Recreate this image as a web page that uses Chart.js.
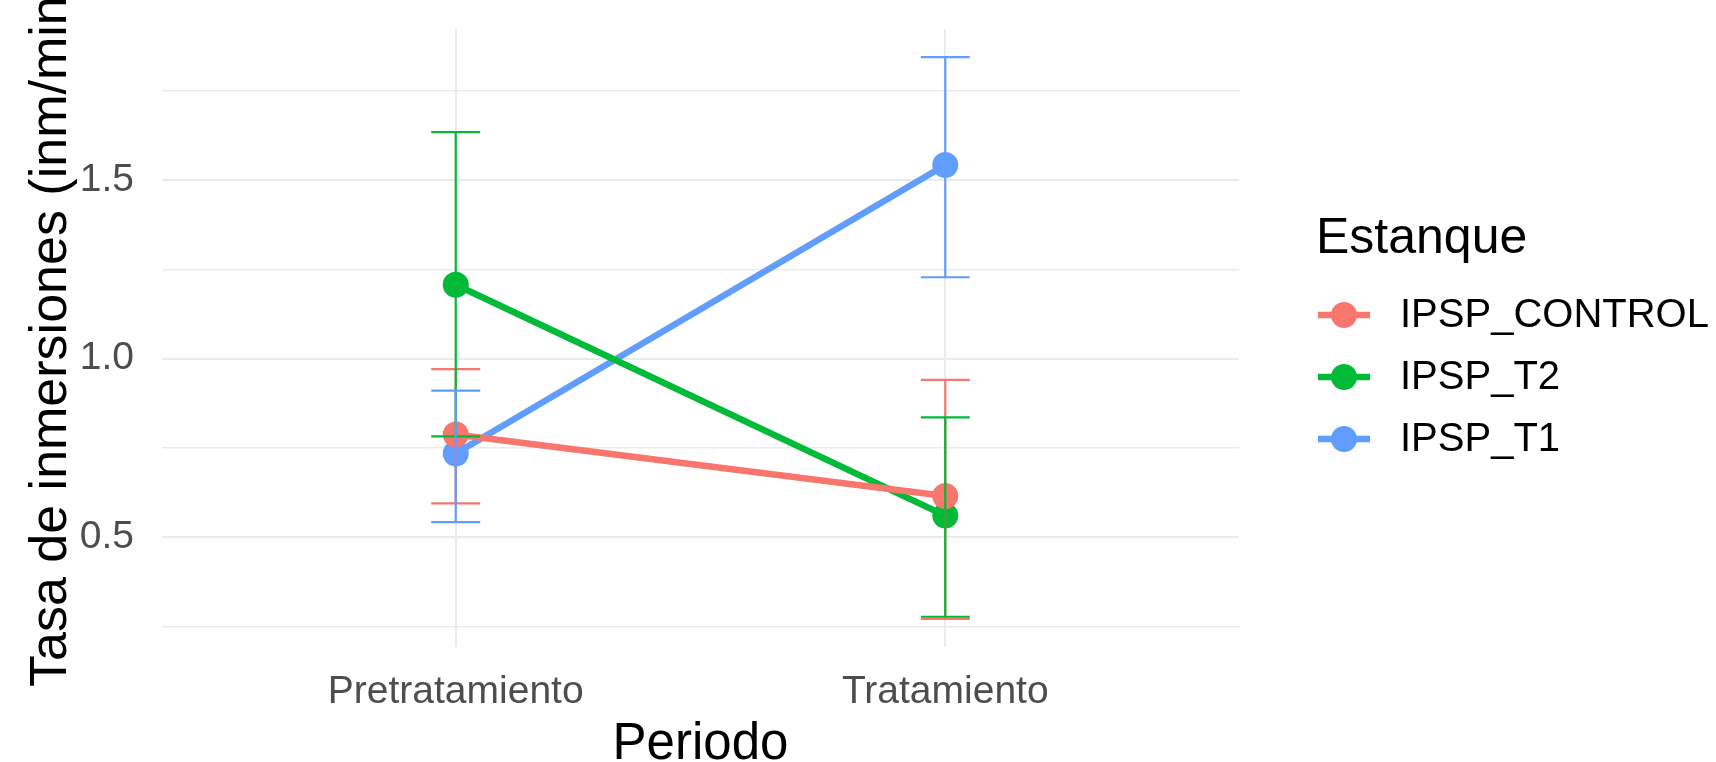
<!DOCTYPE html>
<html>
<head>
<meta charset="utf-8">
<script src="https://cdn.jsdelivr.net/npm/chart.js@4"></script>
<style>
  html, body { margin: 0; padding: 0; background: #ffffff; }
  #wrap { width: 1716px; height: 762px; position: relative; }
</style>
</head>
<body>
<div id="wrap"><canvas id="chart"></canvas></div>
<script>
// Periods on the x axis
const categories = ['Pretratamiento', 'Tratamiento'];

// Pond series, in drawing order
const seriesNames = ['IPSP_CONTROL', 'IPSP_T2', 'IPSP_T1'];
const seriesColors = ['#F8766D', '#00BA38', '#619CFF'];

// Mean dive rate and error bar limits per period
const controlMean = [0.788, 0.616];
const controlLow  = [0.595, 0.272];
const controlHigh = [0.971, 0.941];

const t2Mean = [1.207, 0.561];
const t2Low  = [0.783, 0.278];
const t2High = [1.634, 0.836];

const t1Mean = [0.735, 1.542];
const t1Low  = [0.543, 1.228];
const t1High = [0.911, 1.844];

// Labelled y values and the gridlines between them
const yTicks = [0.5, 1.0, 1.5];
const yGrid = [0.25, 0.5, 0.75, 1.0, 1.25, 1.5, 1.75];

const means = [controlMean, t2Mean, t1Mean];
const lows = [controlLow, t2Low, t1Low];
const highs = [controlHigh, t2High, t1High];

// y range: data extent plus 5% on each side
const allLow = Math.min(...lows.flat());
const allHigh = Math.max(...highs.flat());
const span = allHigh - allLow;
const yMin = allLow - 0.05 * span;
const yMax = allHigh + 0.05 * span;

const datasets = seriesNames.map((name, s) => ({
  label: name,
  data: means[s].map((v, i) => ({ x: i + 1, y: v, lo: lows[s][i], hi: highs[s][i] })),
  borderColor: seriesColors[s],
  backgroundColor: seriesColors[s],
  pointBackgroundColor: seriesColors[s],
  pointBorderWidth: 0,
  pointRadius: 13,
  pointHoverRadius: 13,
  borderWidth: 6.5,
  tension: 0,
  clip: false
}));

const TEXT_FONT = '"Liberation Sans", Arial, sans-serif';

// Vertical error bars with caps, drawn over lines and points
const errorBars = {
  id: 'errorBars',
  afterDatasetsDraw(chart) {
    const { ctx, scales: { x, y } } = chart;
    const capHalf = 0.05;
    ctx.save();
    chart.data.datasets.forEach((ds) => {
      ctx.strokeStyle = ds.borderColor;
      ctx.lineWidth = 2.2;
      ds.data.forEach((p) => {
        const px = x.getPixelForValue(p.x);
        const x0 = x.getPixelForValue(p.x - capHalf);
        const x1 = x.getPixelForValue(p.x + capHalf);
        const yl = y.getPixelForValue(p.lo);
        const yh = y.getPixelForValue(p.hi);
        ctx.beginPath();
        ctx.moveTo(px, yl); ctx.lineTo(px, yh);
        ctx.moveTo(x0, yl); ctx.lineTo(x1, yl);
        ctx.moveTo(x0, yh); ctx.lineTo(x1, yh);
        ctx.stroke();
      });
    });
    ctx.restore();
  }
};

// Axis titles and the legend on the right
const annotations = {
  id: 'annotations',
  afterDraw(chart) {
    const { ctx, chartArea } = chart;
    ctx.save();
    ctx.fillStyle = '#000000';

    // y axis title
    ctx.save();
    ctx.translate(66, 687);
    ctx.rotate(-Math.PI / 2);
    ctx.font = '52px ' + TEXT_FONT;
    ctx.textAlign = 'left';
    ctx.textBaseline = 'alphabetic';
    ctx.fillText('Tasa de inmersiones (inm/min)', 0, 0);
    ctx.restore();

    // x axis title
    ctx.font = '51px ' + TEXT_FONT;
    ctx.textAlign = 'center';
    ctx.textBaseline = 'alphabetic';
    ctx.fillText('Periodo', (chartArea.left + chartArea.right) / 2, 759);

    // legend
    const lx = 1316;
    ctx.textAlign = 'left';
    ctx.font = '50px ' + TEXT_FONT;
    ctx.fillText('Estanque', lx, 253);
    const rows = [315, 377, 439];
    ctx.font = '40px ' + TEXT_FONT;
    seriesNames.forEach((name, s) => {
      const cy = rows[s];
      ctx.strokeStyle = seriesColors[s];
      ctx.fillStyle = seriesColors[s];
      ctx.lineWidth = 6.5;
      ctx.beginPath();
      ctx.moveTo(lx + 2, cy); ctx.lineTo(lx + 54, cy);
      ctx.stroke();
      ctx.beginPath();
      ctx.arc(lx + 28, cy, 13, 0, Math.PI * 2);
      ctx.fill();
      ctx.fillStyle = '#000000';
      ctx.textBaseline = 'middle';
      ctx.fillText(name, 1400, cy + 1);
    });
    ctx.restore();
  }
};

function noScalePadding(scale) {
  scale.paddingTop = 0;
  scale.paddingBottom = 0;
  scale.paddingLeft = 0;
  scale.paddingRight = 0;
}

new Chart(document.getElementById('chart'), {
  type: 'line',
  data: { datasets },
  plugins: [errorBars, annotations],
  options: {
    responsive: true,
    maintainAspectRatio: false,
    animation: false,
    events: [],
    layout: { padding: { left: 0, right: 477, top: 29, bottom: 0 } },
    plugins: { legend: { display: false }, tooltip: { enabled: false } },
    scales: {
      x: {
        type: 'linear',
        min: 0.4,
        max: 2.6,
        afterBuildTicks(scale) {
          scale.ticks = categories.map((c, i) => ({ value: i + 1 }));
        },
        afterFit(scale) { scale.height = 115; noScalePadding(scale); },
        grid: { color: '#EBEBEB', lineWidth: 2, drawTicks: false },
        border: { display: false },
        ticks: {
          autoSkip: false,
          maxRotation: 0,
          padding: 22,
          color: '#4D4D4D',
          font: { family: TEXT_FONT, size: 39 },
          callback: (v) => categories[Math.round(v) - 1]
        }
      },
      y: {
        type: 'linear',
        min: yMin,
        max: yMax,
        afterBuildTicks(scale) {
          scale.ticks = yGrid.map((v) => ({ value: v }));
        },
        afterFit(scale) { scale.width = 162; noScalePadding(scale); },
        grid: {
          color: '#EBEBEB',
          drawTicks: false,
          lineWidth: (c) => (yTicks.some((t) => Math.abs(t - c.tick.value) < 1e-9) ? 2 : 1.5)
        },
        border: { display: false },
        ticks: {
          autoSkip: false,
          padding: 28,
          color: '#4D4D4D',
          font: { family: TEXT_FONT, size: 39 },
          callback: (v) => {
            const t = yTicks.find((k) => Math.abs(k - v) < 1e-9);
            return t === undefined ? '' : t.toFixed(1);
          }
        }
      }
    }
  }
});
</script>
</body>
</html>
